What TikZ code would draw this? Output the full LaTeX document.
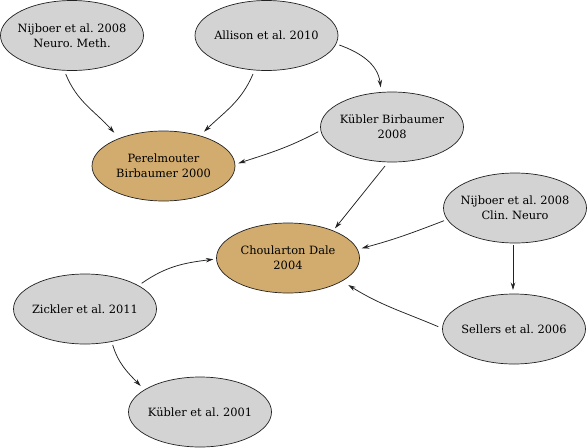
\documentclass[tikz,border=0pt]{standalone}
\usepackage{fontspec}
\setmainfont{DejaVu Serif}
\frenchspacing
\usetikzlibrary{shapes.geometric,arrows.meta,calc}
\definecolor{nodegray}{HTML}{D3D3D3}
\definecolor{nodetan}{HTML}{D2AC6E}
\definecolor{edgeline}{HTML}{222222}
\tikzset{
  paper/.style={ellipse, draw=edgeline, line width=0.7pt, fill=nodegray,
    minimum width=143pt, minimum height=70pt, inner xsep=-25pt, inner ysep=0pt, align=center,
    font=\fontsize{11.4}{15}\selectfont},
  keypaper/.style={paper, fill=nodetan},
  cite/.style={-{Stealth[length=7.5pt,width=4.5pt]}, line width=0.75pt, draw=edgeline}
}
\begin{document}
\begin{tikzpicture}[x=1pt,y=1pt]
\useasboundingbox (0,0) rectangle (588,-447);
\node[paper] (nn) at (72,-35.5) {Nijboer et al. 2008\\Neuro. Meth.};
\node[paper] (al) at (266.5,-35.5) {Allison et al. 2010};
\node[paper] (kb) at (392,-127) {Kübler Birbaumer\\2008};
\node[keypaper] (pb) at (163.5,-166) {Perelmouter\\Birbaumer 2000};
\node[paper] (nc) at (515,-208) {Nijboer et al. 2008\\Clin. Neuro};
\node[keypaper] (cd) at (288,-258) {Choularton Dale\\2004};
\node[paper] (se) at (514,-329) {Sellers et al. 2006};
\node[paper] (zi) at (85,-309) {Zickler et al. 2011};
\node[paper] (ku) at (200,-412) {Kübler et al. 2001};

\draw[cite] ($(nn)+(-6.3,-38.5)$) to[out=-68,in=132] ($(pb)+(-49.2,33.3)$);
\draw[cite] ($(al)+(-13.5,-38.5)$) to[out=-113,in=44] ($(pb)+(40.5,34.3)$);
\draw[cite] ($(al)+(72.8,-9.5)$) to[out=-20,in=97] ($(kb)+(-11.3,39.7)$);
\draw[cite] ($(kb)+(-73.7,-4.7)$) to[out=208,in=18] ($(pb)+(74.8,2.7)$);
\draw[cite] ($(kb)+(-7,-39)$) -- ($(cd)+(47,29.7)$);
\draw[cite] ($(nc)+(-71,-12.7)$) to[out=201,in=15] ($(cd)+(73.7,9.7)$);
\draw[cite] ($(nc)+(-2,-37)$) -- ($(se)+(-1,39)$);
\draw[cite] ($(se)+(-75.7,2.3)$) to[out=157,in=-32] ($(cd)+(60.3,-27)$);
\draw[cite] ($(zi)+(56.7,25.7)$) to[out=35,in=187] ($(cd)+(-74.7,-1.3)$);
\draw[cite] ($(zi)+(27.7,-36)$) to[out=-73,in=134] ($(ku)+(-59.3,26)$);
\end{tikzpicture}
\end{document}
